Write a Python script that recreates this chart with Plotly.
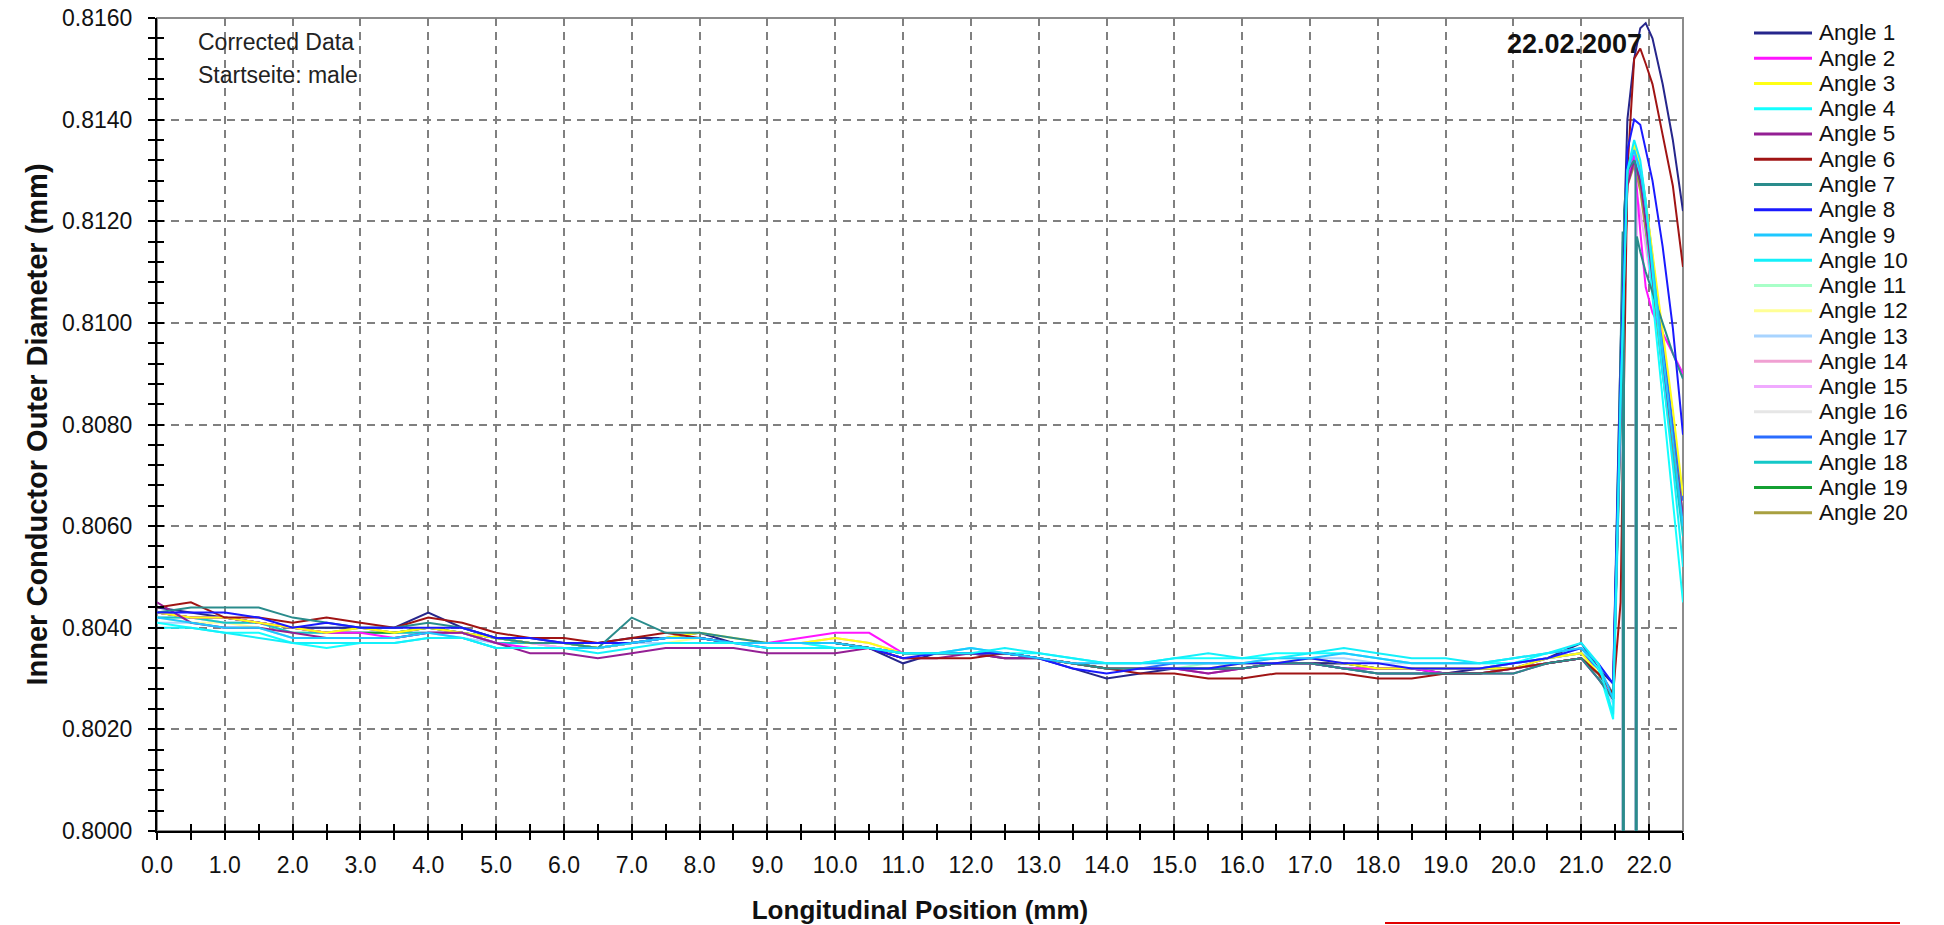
import plotly.graph_objects as go

# ---------------- data ----------------
x_pos = [0.0, 0.5, 1.0, 1.5, 2.0, 2.5, 3.0, 3.5, 4.0, 4.5, 5.0, 5.5, 6.0, 6.5, 7.0, 7.5,
         8.0, 8.5, 9.0, 9.5, 10.0, 10.5, 11.0, 11.5, 12.0, 12.5, 13.0, 13.5, 14.0, 14.5,
         15.0, 15.5, 16.0, 16.5, 17.0, 17.5, 18.0, 18.5, 19.0, 19.5, 20.0, 20.5, 21.0,
         21.25, 21.47, 21.58, 21.68, 21.78, 21.87, 21.95, 22.05, 22.2, 22.35, 22.5]

x_pos_dropout = [0.0, 0.5, 1.0, 1.5, 2.0, 2.5, 3.0, 3.5, 4.0, 4.5, 5.0, 5.5, 6.0, 6.5, 7.0, 7.5,
                 8.0, 8.5, 9.0, 9.5, 10.0, 10.5, 11.0, 11.5, 12.0, 12.5, 13.0, 13.5, 14.0, 14.5,
                 15.0, 15.5, 16.0, 16.5, 17.0, 17.5, 18.0, 18.5, 19.0, 19.5, 20.0, 20.5, 21.0,
                 21.25, 21.47, 21.58, 21.61, 21.62, 21.63, 21.68, 21.78, 21.80, 21.81, 21.82,
                 21.87, 21.95, 22.05, 22.2, 22.35, 22.5]

angle_01 = [0.8044, 0.8043, 0.8042, 0.8041, 0.8040, 0.8040, 0.8040, 0.8040, 0.8043, 0.8040,
            0.8038, 0.8038, 0.8037, 0.8037, 0.8038, 0.8038, 0.8039, 0.8037, 0.8037, 0.8037,
            0.8037, 0.8036, 0.8033, 0.8035, 0.8035, 0.8034, 0.8034, 0.8032, 0.8030, 0.8031,
            0.8032, 0.8032, 0.8032, 0.8033, 0.8033, 0.8033, 0.8032, 0.8032, 0.8031, 0.8032,
            0.8032, 0.8034, 0.8037,
            0.8032, 0.8029, 0.8095, 0.8140, 0.8152, 0.8158, 0.8159, 0.8156, 0.8147, 0.8136, 0.8122]
angle_02 = [0.8043, 0.8042, 0.8042, 0.8041, 0.8040, 0.8039, 0.8039, 0.8038, 0.8039, 0.8039,
            0.8037, 0.8036, 0.8036, 0.8036, 0.8037, 0.8038, 0.8038, 0.8037, 0.8037, 0.8038,
            0.8039, 0.8039, 0.8035, 0.8035, 0.8035, 0.8035, 0.8034, 0.8033, 0.8032, 0.8032,
            0.8032, 0.8031, 0.8032, 0.8033, 0.8033, 0.8032, 0.8032, 0.8032, 0.8031, 0.8031,
            0.8032, 0.8033, 0.8034,
            0.8030, 0.8027, 0.8085, 0.8128, 0.8133, 0.8118, 0.8107, 0.8102, 0.8098, 0.8094, 0.8090]
angle_03 = [0.8043, 0.8042, 0.8042, 0.8041, 0.8040, 0.8039, 0.8040, 0.8039, 0.8040, 0.8039,
            0.8038, 0.8037, 0.8037, 0.8036, 0.8037, 0.8038, 0.8039, 0.8038, 0.8037, 0.8037,
            0.8038, 0.8037, 0.8035, 0.8035, 0.8035, 0.8035, 0.8034, 0.8033, 0.8032, 0.8032,
            0.8032, 0.8032, 0.8033, 0.8033, 0.8034, 0.8033, 0.8032, 0.8032, 0.8032, 0.8032,
            0.8032, 0.8034, 0.8035,
            0.8031, 0.8027, 0.8080, 0.8130, 0.8135, 0.8131, 0.8124, 0.8114, 0.8098, 0.8083, 0.8066]
angle_04 = [0.8041, 0.8040, 0.8039, 0.8039, 0.8037, 0.8036, 0.8037, 0.8037, 0.8038, 0.8038,
            0.8036, 0.8036, 0.8036, 0.8036, 0.8037, 0.8038, 0.8038, 0.8037, 0.8037, 0.8037,
            0.8036, 0.8036, 0.8035, 0.8035, 0.8036, 0.8035, 0.8035, 0.8034, 0.8033, 0.8033,
            0.8034, 0.8034, 0.8034, 0.8035, 0.8035, 0.8035, 0.8034, 0.8033, 0.8033, 0.8033,
            0.8033, 0.8035, 0.8036,
            0.8032, 0.8022, 0.8080, 0.8131, 0.8134, 0.8129, 0.8120, 0.8105, 0.8085, 0.8065, 0.8045]
angle_05 = [0.8045, 0.8041, 0.8040, 0.8040, 0.8039, 0.8038, 0.8038, 0.8038, 0.8039, 0.8039,
            0.8037, 0.8035, 0.8035, 0.8034, 0.8035, 0.8036, 0.8036, 0.8036, 0.8035, 0.8035,
            0.8035, 0.8036, 0.8034, 0.8034, 0.8035, 0.8034, 0.8034, 0.8033, 0.8032, 0.8032,
            0.8032, 0.8031, 0.8032, 0.8033, 0.8033, 0.8032, 0.8031, 0.8031, 0.8031, 0.8031,
            0.8031, 0.8033, 0.8034,
            0.8030, 0.8026, 0.8080, 0.8127, 0.8132, 0.8128, 0.8120, 0.8109, 0.8092, 0.8077, 0.8062]
angle_06 = [0.8044, 0.8045, 0.8042, 0.8042, 0.8041, 0.8042, 0.8041, 0.8040, 0.8042, 0.8041,
            0.8039, 0.8038, 0.8038, 0.8037, 0.8038, 0.8039, 0.8038, 0.8037, 0.8037, 0.8037,
            0.8037, 0.8036, 0.8034, 0.8034, 0.8034, 0.8035, 0.8034, 0.8033, 0.8032, 0.8031,
            0.8031, 0.8030, 0.8030, 0.8031, 0.8031, 0.8031, 0.8030, 0.8030, 0.8031, 0.8031,
            0.8032, 0.8033, 0.8034,
            0.8031, 0.8027, 0.8045, 0.8130, 0.8152, 0.8154, 0.8151, 0.8147, 0.8137, 0.8127, 0.8111]
angle_07 = [0.8043, 0.8044, 0.8044, 0.8044, 0.8042, 0.8041, 0.8040, 0.8040, 0.8041, 0.8040,
            0.8038, 0.8037, 0.8037, 0.8036, 0.8042, 0.8039, 0.8039, 0.8038, 0.8037, 0.8037,
            0.8037, 0.8036, 0.8035, 0.8035, 0.8035, 0.8035, 0.8034, 0.8033, 0.8032, 0.8032,
            0.8032, 0.8032, 0.8032, 0.8033, 0.8033, 0.8032, 0.8031, 0.8031, 0.8031, 0.8031,
            0.8031, 0.8033, 0.8034,
            0.8030, 0.8026, 0.8095, 0.8118, 0.7000, 0.8122, 0.8130, 0.8132, 0.8131, 0.7000,
            0.8117, 0.8114, 0.8110, 0.8106, 0.8100, 0.8094, 0.8089]
angle_08 = [0.8043, 0.8043, 0.8043, 0.8042, 0.8040, 0.8041, 0.8040, 0.8040, 0.8040, 0.8040,
            0.8038, 0.8038, 0.8037, 0.8037, 0.8037, 0.8038, 0.8038, 0.8037, 0.8036, 0.8036,
            0.8036, 0.8036, 0.8034, 0.8035, 0.8035, 0.8035, 0.8034, 0.8032, 0.8031, 0.8032,
            0.8032, 0.8032, 0.8033, 0.8033, 0.8034, 0.8033, 0.8033, 0.8032, 0.8032, 0.8032,
            0.8033, 0.8034, 0.8036,
            0.8033, 0.8029, 0.8090, 0.8134, 0.8140, 0.8139, 0.8134, 0.8128, 0.8115, 0.8099, 0.8078]
angle_09 = [0.8042, 0.8041, 0.8040, 0.8040, 0.8038, 0.8038, 0.8038, 0.8038, 0.8039, 0.8038,
            0.8036, 0.8036, 0.8036, 0.8036, 0.8037, 0.8038, 0.8038, 0.8037, 0.8037, 0.8037,
            0.8037, 0.8036, 0.8035, 0.8035, 0.8036, 0.8035, 0.8034, 0.8033, 0.8033, 0.8033,
            0.8033, 0.8033, 0.8033, 0.8034, 0.8034, 0.8035, 0.8034, 0.8033, 0.8033, 0.8033,
            0.8034, 0.8035, 0.8036,
            0.8033, 0.8026, 0.8085, 0.8130, 0.8134, 0.8130, 0.8123, 0.8112, 0.8094, 0.8077, 0.8060]
angle_10 = [0.8040, 0.8040, 0.8039, 0.8038, 0.8037, 0.8037, 0.8037, 0.8037, 0.8038, 0.8038,
            0.8036, 0.8036, 0.8036, 0.8035, 0.8036, 0.8037, 0.8037, 0.8037, 0.8036, 0.8036,
            0.8036, 0.8036, 0.8035, 0.8035, 0.8035, 0.8036, 0.8035, 0.8034, 0.8033, 0.8033,
            0.8034, 0.8035, 0.8034, 0.8034, 0.8035, 0.8036, 0.8035, 0.8034, 0.8034, 0.8033,
            0.8034, 0.8035, 0.8037,
            0.8033, 0.8023, 0.8085, 0.8130, 0.8136, 0.8132, 0.8124, 0.8110, 0.8090, 0.8072, 0.8052]
angle_11 = [0.8042, 0.8042, 0.8041, 0.8041, 0.8039, 0.8039, 0.8039, 0.8039, 0.8039, 0.8039,
            0.8037, 0.8037, 0.8036, 0.8036, 0.8037, 0.8038, 0.8038, 0.8037, 0.8037, 0.8037,
            0.8037, 0.8036, 0.8035, 0.8035, 0.8035, 0.8035, 0.8034, 0.8033, 0.8032, 0.8032,
            0.8032, 0.8033, 0.8033, 0.8033, 0.8033, 0.8033, 0.8032, 0.8032, 0.8032, 0.8032,
            0.8033, 0.8034, 0.8035,
            0.8032, 0.8026, 0.8083, 0.8129, 0.8133, 0.8128, 0.8121, 0.8110, 0.8093, 0.8078, 0.8063]
angle_12 = [0.8042, 0.8041, 0.8041, 0.8040, 0.8039, 0.8039, 0.8039, 0.8039, 0.8039, 0.8039,
            0.8037, 0.8037, 0.8036, 0.8036, 0.8037, 0.8037, 0.8038, 0.8037, 0.8037, 0.8037,
            0.8037, 0.8036, 0.8035, 0.8035, 0.8035, 0.8034, 0.8034, 0.8033, 0.8032, 0.8032,
            0.8032, 0.8032, 0.8033, 0.8033, 0.8033, 0.8033, 0.8032, 0.8032, 0.8032, 0.8032,
            0.8033, 0.8034, 0.8035,
            0.8032, 0.8026, 0.8082, 0.8129, 0.8134, 0.8129, 0.8122, 0.8111, 0.8094, 0.8079, 0.8064]
angle_13 = [0.8041, 0.8041, 0.8040, 0.8040, 0.8038, 0.8038, 0.8038, 0.8038, 0.8039, 0.8038,
            0.8037, 0.8036, 0.8036, 0.8036, 0.8037, 0.8037, 0.8037, 0.8037, 0.8037, 0.8037,
            0.8036, 0.8036, 0.8035, 0.8035, 0.8035, 0.8035, 0.8034, 0.8033, 0.8033, 0.8033,
            0.8033, 0.8033, 0.8033, 0.8034, 0.8034, 0.8034, 0.8033, 0.8033, 0.8033, 0.8033,
            0.8033, 0.8034, 0.8036,
            0.8032, 0.8025, 0.8084, 0.8129, 0.8133, 0.8128, 0.8120, 0.8109, 0.8092, 0.8076, 0.8061]
angle_14 = [0.8043, 0.8042, 0.8042, 0.8041, 0.8040, 0.8039, 0.8039, 0.8039, 0.8039, 0.8039,
            0.8037, 0.8037, 0.8036, 0.8036, 0.8037, 0.8038, 0.8038, 0.8037, 0.8037, 0.8037,
            0.8038, 0.8037, 0.8035, 0.8035, 0.8035, 0.8035, 0.8034, 0.8033, 0.8032, 0.8032,
            0.8032, 0.8032, 0.8032, 0.8033, 0.8033, 0.8032, 0.8032, 0.8032, 0.8031, 0.8032,
            0.8032, 0.8033, 0.8034,
            0.8031, 0.8026, 0.8083, 0.8128, 0.8133, 0.8128, 0.8121, 0.8110, 0.8093, 0.8078, 0.8063]
angle_15 = [0.8043, 0.8042, 0.8041, 0.8041, 0.8040, 0.8039, 0.8039, 0.8039, 0.8039, 0.8039,
            0.8037, 0.8037, 0.8036, 0.8036, 0.8037, 0.8038, 0.8038, 0.8037, 0.8037, 0.8037,
            0.8037, 0.8036, 0.8035, 0.8035, 0.8035, 0.8035, 0.8034, 0.8033, 0.8032, 0.8032,
            0.8032, 0.8032, 0.8032, 0.8033, 0.8033, 0.8032, 0.8032, 0.8032, 0.8032, 0.8032,
            0.8032, 0.8033, 0.8034,
            0.8031, 0.8026, 0.8090, 0.8116, 0.7000, 0.8120, 0.8128, 0.8133, 0.8132, 0.7000,
            0.8125, 0.8122, 0.8115, 0.8106, 0.8090, 0.8075, 0.8060]
angle_16 = [0.8042, 0.8042, 0.8041, 0.8041, 0.8039, 0.8039, 0.8039, 0.8039, 0.8039, 0.8039,
            0.8037, 0.8037, 0.8037, 0.8036, 0.8037, 0.8038, 0.8038, 0.8037, 0.8037, 0.8037,
            0.8037, 0.8036, 0.8035, 0.8035, 0.8035, 0.8035, 0.8034, 0.8033, 0.8032, 0.8032,
            0.8032, 0.8032, 0.8033, 0.8033, 0.8033, 0.8033, 0.8032, 0.8032, 0.8032, 0.8032,
            0.8033, 0.8034, 0.8035,
            0.8032, 0.8026, 0.8083, 0.8129, 0.8133, 0.8129, 0.8121, 0.8110, 0.8093, 0.8077, 0.8062]
angle_17 = [0.8043, 0.8042, 0.8042, 0.8041, 0.8040, 0.8040, 0.8040, 0.8039, 0.8040, 0.8039,
            0.8038, 0.8037, 0.8037, 0.8037, 0.8037, 0.8038, 0.8038, 0.8037, 0.8037, 0.8037,
            0.8037, 0.8036, 0.8035, 0.8035, 0.8035, 0.8035, 0.8034, 0.8033, 0.8032, 0.8032,
            0.8033, 0.8033, 0.8033, 0.8033, 0.8033, 0.8033, 0.8032, 0.8032, 0.8032, 0.8032,
            0.8033, 0.8034, 0.8035,
            0.8032, 0.8027, 0.8088, 0.8130, 0.8135, 0.8131, 0.8124, 0.8113, 0.8096, 0.8080, 0.8065]
angle_18 = [0.8042, 0.8042, 0.8041, 0.8041, 0.8039, 0.8039, 0.8039, 0.8039, 0.8039, 0.8039,
            0.8037, 0.8037, 0.8037, 0.8036, 0.8037, 0.8038, 0.8038, 0.8037, 0.8037, 0.8037,
            0.8037, 0.8036, 0.8035, 0.8035, 0.8035, 0.8035, 0.8034, 0.8033, 0.8032, 0.8032,
            0.8032, 0.8032, 0.8032, 0.8033, 0.8033, 0.8032, 0.8031, 0.8031, 0.8031, 0.8031,
            0.8032, 0.8033, 0.8034,
            0.8031, 0.8026, 0.8082, 0.8128, 0.8133, 0.8128, 0.8120, 0.8108, 0.8090, 0.8074, 0.8058]
angle_19 = [0.8043, 0.8042, 0.8042, 0.8041, 0.8040, 0.8039, 0.8039, 0.8039, 0.8040, 0.8039,
            0.8038, 0.8037, 0.8037, 0.8036, 0.8037, 0.8038, 0.8038, 0.8037, 0.8037, 0.8037,
            0.8037, 0.8036, 0.8035, 0.8035, 0.8035, 0.8035, 0.8034, 0.8033, 0.8032, 0.8032,
            0.8032, 0.8032, 0.8032, 0.8033, 0.8033, 0.8032, 0.8032, 0.8032, 0.8031, 0.8031,
            0.8032, 0.8033, 0.8034,
            0.8031, 0.8026, 0.8083, 0.8128, 0.8132, 0.8127, 0.8119, 0.8108, 0.8092, 0.8077, 0.8062]
angle_20 = [0.8043, 0.8042, 0.8042, 0.8041, 0.8040, 0.8039, 0.8040, 0.8039, 0.8040, 0.8039,
            0.8038, 0.8037, 0.8037, 0.8036, 0.8037, 0.8038, 0.8038, 0.8037, 0.8037, 0.8037,
            0.8037, 0.8036, 0.8035, 0.8035, 0.8035, 0.8035, 0.8034, 0.8033, 0.8032, 0.8032,
            0.8032, 0.8032, 0.8032, 0.8033, 0.8033, 0.8033, 0.8032, 0.8032, 0.8032, 0.8032,
            0.8032, 0.8033, 0.8034,
            0.8031, 0.8026, 0.8082, 0.8127, 0.8131, 0.8126, 0.8118, 0.8107, 0.8091, 0.8076, 0.8061]

series_names = ["Angle 1", "Angle 2", "Angle 3", "Angle 4", "Angle 5", "Angle 6", "Angle 7",
                "Angle 8", "Angle 9", "Angle 10", "Angle 11", "Angle 12", "Angle 13", "Angle 14",
                "Angle 15", "Angle 16", "Angle 17", "Angle 18", "Angle 19", "Angle 20"]
series_colors = ["#26268C", "#FF14FF", "#FFFF14", "#14FFFF", "#941F94", "#A01414", "#2A8C8C",
                 "#1A1AFF", "#1EC8FF", "#14F0FA", "#A8FFC8", "#FFFF96", "#A8D4FF", "#F0A0D2",
                 "#F0AAFF", "#E6E6E6", "#2A6CFF", "#14C8C8", "#14A032", "#A8A040"]
series_values = [angle_01, angle_02, angle_03, angle_04, angle_05, angle_06, angle_07, angle_08,
                 angle_09, angle_10, angle_11, angle_12, angle_13, angle_14, angle_15, angle_16,
                 angle_17, angle_18, angle_19, angle_20]
series_x = [x_pos_dropout if len(v) == len(x_pos_dropout) else x_pos for v in series_values]

x_ticks = [0.0, 1.0, 2.0, 3.0, 4.0, 5.0, 6.0, 7.0, 8.0, 9.0, 10.0, 11.0, 12.0, 13.0, 14.0,
           15.0, 16.0, 17.0, 18.0, 19.0, 20.0, 21.0, 22.0]
y_ticks = [0.8000, 0.8020, 0.8040, 0.8060, 0.8080, 0.8100, 0.8120, 0.8140, 0.8160]

# ---------------- layout constants (pixels) ----------------
W, H = 1944, 925
PL, PR, PT, PB = 157, 1683, 18, 831
FONT = "Liberation Sans, Arial, sans-serif"


def px_x(px):
    return (px - PL) / (PR - PL)


def px_y(py):
    return (PB - py) / (PB - PT)


fig = go.Figure()

draw_order = list(range(10, 20)) + list(range(0, 10))
for i in draw_order:
    fig.add_trace(go.Scatter(
        x=series_x[i], y=series_values[i], mode="lines", name=series_names[i],
        line=dict(color=series_colors[i], width=2), showlegend=False,
        hovertemplate="%{x:.2f} mm: %{y:.4f} mm<extra>" + series_names[i] + "</extra>"))

# helper trace for the inner half of the crossing tick marks
fig.add_trace(go.Scatter(x=[0], y=[0.8], xaxis="x2", yaxis="y2", mode="markers",
                         marker=dict(opacity=0), showlegend=False, hoverinfo="skip"))

tick_font = dict(family=FONT, size=23, color="#111111")
common_axis = dict(zeroline=False, ticks="outside", ticklen=7, tickwidth=2, tickcolor="black",
                   showline=True, linecolor="black", linewidth=2, tickfont=tick_font,
                   showgrid=True, gridcolor="#808080", gridwidth=1.5, griddash="8px,6px")

fig.update_layout(
    width=W, height=H,
    margin=dict(l=PL, r=W - PR, t=PT, b=H - PB, pad=0, autoexpand=False),
    paper_bgcolor="white", plot_bgcolor="white", showlegend=False,
    xaxis=dict(range=[0, 22.5], tickmode="array", tickvals=x_ticks,
               ticktext=[f"{v:.1f}" for v in x_ticks], ticklabelstandoff=5,
               minor=dict(tick0=0, dtick=0.5, ticks="outside", ticklen=7, tickwidth=2,
                          tickcolor="black", showgrid=False),
               title=dict(text="<b>Longitudinal Position (mm)</b>", standoff=32,
                          font=dict(family=FONT, size=26, color="#111111")),
               **common_axis),
    yaxis=dict(range=[0.8, 0.816], tickmode="array", tickvals=y_ticks,
               ticktext=[f"{v:.4f}" for v in y_ticks], ticklabelstandoff=11,
               minor=dict(tick0=0.8, dtick=0.0004, ticks="outside", ticklen=7, tickwidth=2,
                          tickcolor="black", showgrid=False),
               title=dict(text="<b>Inner Conductor Outer Diameter (mm)</b>", standoff=6,
                          font=dict(family=FONT, size=29, color="#111111")),
               **common_axis),
    xaxis2=dict(range=[0, 22.5], overlaying="x", anchor="y", side="bottom",
                tickmode="array", tickvals=x_ticks, showticklabels=False,
                ticks="inside", ticklen=7, tickwidth=2, tickcolor="black",
                minor=dict(tick0=0, dtick=0.5, ticks="inside", ticklen=7, tickwidth=2,
                           tickcolor="black", showgrid=False),
                showgrid=False, showline=False, zeroline=False),
    yaxis2=dict(range=[0.8, 0.816], overlaying="y", anchor="x", side="left",
                tickmode="array", tickvals=y_ticks, showticklabels=False,
                ticks="inside", ticklen=7, tickwidth=2, tickcolor="black",
                minor=dict(tick0=0.8, dtick=0.0004, ticks="inside", ticklen=7, tickwidth=2,
                           tickcolor="black", showgrid=False),
                showgrid=False, showline=False, zeroline=False),
)

# grey frame (top/right)
fig.add_shape(type="rect", xref="paper", yref="paper", x0=0, x1=1, y0=0, y1=1,
              line=dict(color="#8C8C8C", width=2), layer="below")

# text labels inside the plot
fig.add_annotation(text="Corrected Data", xref="paper", yref="paper", x=px_x(196), y=px_y(42),
                   xanchor="left", yanchor="middle", showarrow=False,
                   font=dict(family=FONT, size=23, color="#222222"))
fig.add_annotation(text="Startseite: male", xref="paper", yref="paper", x=px_x(196), y=px_y(75),
                   xanchor="left", yanchor="middle", showarrow=False,
                   font=dict(family=FONT, size=23, color="#222222"))
fig.add_annotation(text="<b>22.02.2007</b>", xref="paper", yref="paper", x=px_x(1644),
                   y=px_y(44), xanchor="right", yanchor="middle", showarrow=False,
                   font=dict(family=FONT, size=27, color="#111111"))

# legend (drawn at fixed pixel positions to match the compact spacing)
LEG_Y0, LEG_DY = 33, 25.25
for i, (nm, col) in enumerate(zip(series_names, series_colors)):
    yy = px_y(LEG_Y0 + LEG_DY * i)
    fig.add_shape(type="line", xref="paper", yref="paper", x0=px_x(1754), x1=px_x(1812),
                  y0=yy, y1=yy, line=dict(color=col, width=3))
    fig.add_annotation(text=nm, xref="paper", yref="paper", x=px_x(1818), y=yy,
                       xanchor="left", yanchor="middle", showarrow=False, borderpad=0,
                       font=dict(family=FONT, size=22.5, color="#111111"))

# red rule at the bottom edge
fig.add_shape(type="line", xref="paper", yref="paper", x0=px_x(1385), x1=px_x(1900),
              y0=px_y(923), y1=px_y(923), line=dict(color="#E00000", width=2))

fig.write_html("out.html")
